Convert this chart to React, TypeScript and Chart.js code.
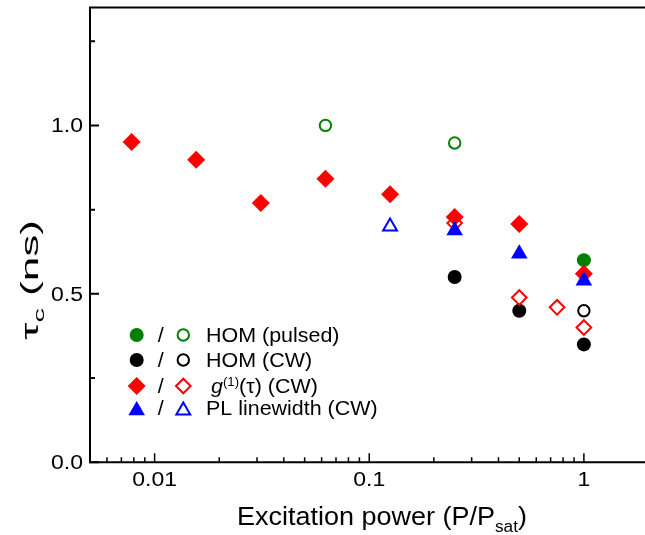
import React, { useEffect, useRef } from 'react';
import { Chart, registerables, PointElement } from 'chart.js';

Chart.register(...registerables);

// ---------- data ----------
const g1FilledX = [0.0078125, 0.015625, 0.03125, 0.0625, 0.125, 0.25, 0.5, 1];
const g1FilledY = [0.951, 0.898, 0.770, 0.842, 0.796, 0.728, 0.707, 0.560];
const g1OpenX = [0.25, 0.5, 0.75, 1];
const g1OpenY = [0.710, 0.489, 0.460, 0.400];
const homPulsedFilledX = [1];
const homPulsedFilledY = [0.60];
const homPulsedOpenX = [0.0625, 0.25];
const homPulsedOpenY = [1.0, 0.948];
const homCwFilledX = [0.25, 0.5, 1];
const homCwFilledY = [0.55, 0.45, 0.35];
const homCwOpenX = [1];
const homCwOpenY = [0.45];
const plFilledX = [0.25, 0.5, 1];
const plFilledY = [0.688, 0.619, 0.539];
const plOpenX = [0.125];
const plOpenY = [0.70];

const xTickValues = [0.01, 0.1, 1];
const xTickLabels = ['0.01', '0.1', '1'];
const yTickValues = [0, 0.5, 1.0];
const yTickLabels = ['0.0', '0.5', '1.0'];
const yMinorTickValues = [0.25, 0.75, 1.25];

const legendLabels = ['HOM (pulsed)', 'HOM (CW)', 'g(1)(τ) (CW)', 'PL linewidth (CW)'];

const X_MIN = 0.005;
const X_MAX = 2;
const Y_MIN = 0;
const Y_MAX = 1.35;

// ---------- styles ----------
const GREEN = '#008000';
const BLACK = '#000000';
const RED = '#ff0000';
const BLUE = '#0000ff';
const FONT = '"Liberation Sans", Arial, sans-serif';
const CANVAS_W = 660;
const CANVAS_H = 535;

type Style = 'circle' | 'rectRot' | 'triangle';
const markerSizes: Record<Style, { filled: number; open: number }> = {
  circle: { filled: 7, open: 5.7 },
  rectRot: { filled: 9, open: 7.3 },
  triangle: { filled: 9.6, open: 8 },
};

function pts(xs: number[], ys: number[]) {
  return xs.map((x, i) => ({ x, y: ys[i] }));
}

function ds(label: string, xs: number[], ys: number[], color: string, style: Style, filled: boolean) {
  const r = filled ? markerSizes[style].filled : markerSizes[style].open;
  return {
    label,
    data: pts(xs, ys),
    showLine: false,
    pointStyle: style,
    pointRadius: r,
    pointHoverRadius: r,
    pointBackgroundColor: filled ? color : 'rgba(0,0,0,0)',
    pointBorderColor: color,
    pointBorderWidth: filled ? 0 : 2,
    pointRotation: 0,
  };
}

type Piece = { t: string; size: number; dy?: number; italic?: boolean };

function fontOf(p: Piece) {
  return `${p.italic ? 'italic ' : ''}${p.size}px ${FONT}`;
}

function measure(ctx: CanvasRenderingContext2D, pieces: Piece[]) {
  let total = 0;
  pieces.forEach((p) => {
    ctx.font = fontOf(p);
    total += ctx.measureText(p.t).width;
  });
  return total;
}

function drawPieces(
  ctx: CanvasRenderingContext2D,
  pieces: Piece[],
  x: number,
  y: number,
  stretch: number,
  align: 'left' | 'center' | 'right',
  rotate = 0
) {
  const total = measure(ctx, pieces);
  ctx.save();
  ctx.translate(x, y);
  if (rotate) ctx.rotate(rotate);
  ctx.scale(stretch, 1);
  ctx.textAlign = 'left';
  ctx.textBaseline = 'alphabetic';
  ctx.fillStyle = '#000';
  let cx = align === 'left' ? 0 : align === 'center' ? -total / 2 : -total;
  pieces.forEach((p) => {
    ctx.font = fontOf(p);
    ctx.fillText(p.t, cx, p.dy || 0);
    cx += ctx.measureText(p.t).width;
  });
  ctx.restore();
}

function drawMarker(ctx: CanvasRenderingContext2D, x: number, y: number, color: string, style: Style, filled: boolean) {
  const p: any = new PointElement({} as any);
  p.x = x;
  p.y = y;
  p.options = {
    pointStyle: style,
    rotation: 0,
    radius: filled ? markerSizes[style].filled : markerSizes[style].open,
    backgroundColor: filled ? color : 'rgba(0,0,0,0)',
    borderColor: color,
    borderWidth: filled ? 0 : 2,
  };
  p.draw(ctx);
}

const decorPlugin = {
  id: 'decor',
  afterDatasetsDraw(chart: any) {
    const { ctx, chartArea } = chart;
    const { left, top, right, bottom } = chartArea;
    const xs = chart.scales.x;
    const ys = chart.scales.y;
    ctx.save();
    // frame
    ctx.strokeStyle = '#000';
    ctx.lineWidth = 2;
    ctx.lineCap = 'butt';
    ctx.beginPath();
    ctx.moveTo(left - 1, top);
    ctx.lineTo(right + 10, top);
    ctx.moveTo(left, top - 1);
    ctx.lineTo(left, bottom + 1);
    ctx.moveTo(left - 1, bottom);
    ctx.lineTo(right + 10, bottom);
    ctx.stroke();

    // y ticks
    ctx.lineWidth = 2;
    ctx.beginPath();
    yTickValues.forEach((v) => {
      const py = ys.getPixelForValue(v);
      ctx.moveTo(left, py);
      ctx.lineTo(left + 9, py);
    });
    yMinorTickValues.forEach((v) => {
      const py = ys.getPixelForValue(v);
      ctx.moveTo(left, py);
      ctx.lineTo(left + 5, py);
    });
    ctx.stroke();

    // x ticks
    ctx.lineWidth = 1.5;
    ctx.beginPath();
    xTickValues.forEach((v) => {
      const px = xs.getPixelForValue(v);
      ctx.moveTo(px, bottom);
      ctx.lineTo(px, bottom - 9);
    });
    for (let d = -3; d <= 0; d++) {
      for (let k = 2; k <= 9; k++) {
        const v = k * Math.pow(10, d);
        if (v <= X_MIN * 1.01 || v >= X_MAX) continue;
        const px = xs.getPixelForValue(v);
        ctx.moveTo(px, bottom);
        ctx.lineTo(px, bottom - 5);
      }
    }
    ctx.stroke();

    // tick labels
    const TS = 20;
    const tickStretch = 1.15;
    yTickValues.forEach((v, i) => {
      const py = ys.getPixelForValue(v);
      drawPieces(ctx, [{ t: yTickLabels[i], size: TS }], 83, py + 7, tickStretch, 'right');
    });
    xTickValues.forEach((v, i) => {
      const px = xs.getPixelForValue(v);
      drawPieces(ctx, [{ t: xTickLabels[i], size: TS }], px, 486, tickStretch, 'center');
    });

    // x title
    const xt: Piece[] = [
      { t: 'Excitation power (P/P', size: 25 },
      { t: 'sat', size: 16, dy: 7 },
      { t: ')', size: 25 },
    ];
    const xtStretch = 290 / measure(ctx, xt);
    drawPieces(ctx, xt, 382, 525, xtStretch, 'center');

    // y title (rotated)
    const yt: Piece[] = [
      { t: 'τ', size: 23 },
      { t: 'c', size: 15, dy: 6 },
      { t: ' (ns)', size: 23 },
    ];
    const ytStretch = 120 / measure(ctx, yt);
    drawPieces(ctx, yt, 38, 280, ytStretch, 'center', -Math.PI / 2);

    // legend
    const LS = 19.5;
    const legStretch = 1.1;
    const rows: { y: number; color: string; style: Style; pieces: Piece[]; tx: number }[] = [
      { y: 335, color: GREEN, style: 'circle', pieces: [{ t: legendLabels[0], size: LS }], tx: 206 },
      { y: 360, color: BLACK, style: 'circle', pieces: [{ t: legendLabels[1], size: LS }], tx: 206 },
      {
        y: 386,
        color: RED,
        style: 'rectRot',
        pieces: [
          { t: 'g', size: LS, italic: true },
          { t: '(1)', size: 12, dy: -7 },
          { t: '(τ) (CW)', size: LS },
        ],
        tx: 211,
      },
      { y: 410.5, color: BLUE, style: 'triangle', pieces: [{ t: legendLabels[3], size: LS }], tx: 206 },
    ];
    rows.forEach((r) => {
      drawMarker(ctx, 136.7, r.y, r.color, r.style, true);
      drawMarker(ctx, 183.3, r.y, r.color, r.style, false);
      const ty = r.style === 'triangle' ? r.y - 2.4 : r.y;
      drawPieces(ctx, [{ t: '/', size: LS }], 160.7, ty + 7, legStretch, 'center');
      drawPieces(ctx, r.pieces, r.tx, ty + 7, legStretch, 'left');
    });
    ctx.restore();
  },
};

export default function App() {
  const ref = useRef<HTMLCanvasElement | null>(null);
  useEffect(() => {
    if (!ref.current) return;
    const chart = new Chart(ref.current, {
      type: 'scatter',
      data: {
        datasets: [
          ds('PL linewidth (CW) filled', plFilledX, plFilledY, BLUE, 'triangle', true),
          ds('PL linewidth (CW) open', plOpenX, plOpenY, BLUE, 'triangle', false),
          ds('g1 (CW) filled', g1FilledX, g1FilledY, RED, 'rectRot', true),
          ds('g1 (CW) open', g1OpenX, g1OpenY, RED, 'rectRot', false),
          ds('HOM (CW) filled', homCwFilledX, homCwFilledY, BLACK, 'circle', true),
          ds('HOM (CW) open', homCwOpenX, homCwOpenY, BLACK, 'circle', false),
          ds('HOM (pulsed) filled', homPulsedFilledX, homPulsedFilledY, GREEN, 'circle', true),
          ds('HOM (pulsed) open', homPulsedOpenX, homPulsedOpenY, GREEN, 'circle', false),
        ] as any,
      },
      options: {
        responsive: false,
        maintainAspectRatio: false,
        animation: false,
        devicePixelRatio: 1,
        events: [],
        layout: {
          autoPadding: false,
          padding: { left: 90, top: 7.5, right: CANVAS_W - 648.5, bottom: CANVAS_H - 462.3 },
        },
        plugins: { legend: { display: false }, tooltip: { enabled: false } },
        scales: {
          x: { type: 'logarithmic', min: X_MIN, max: X_MAX, display: false },
          y: { type: 'linear', min: Y_MIN, max: Y_MAX, display: false },
        },
      } as any,
      plugins: [decorPlugin],
    });
    return () => chart.destroy();
  }, []);
  return (
    <div
      style={{
        position: 'fixed',
        left: 0,
        top: 0,
        width: 645,
        height: 535,
        overflow: 'hidden',
        background: '#fff',
      }}
    >
      <canvas ref={ref} width={CANVAS_W} height={CANVAS_H} style={{ display: 'block' }} />
    </div>
  );
}
